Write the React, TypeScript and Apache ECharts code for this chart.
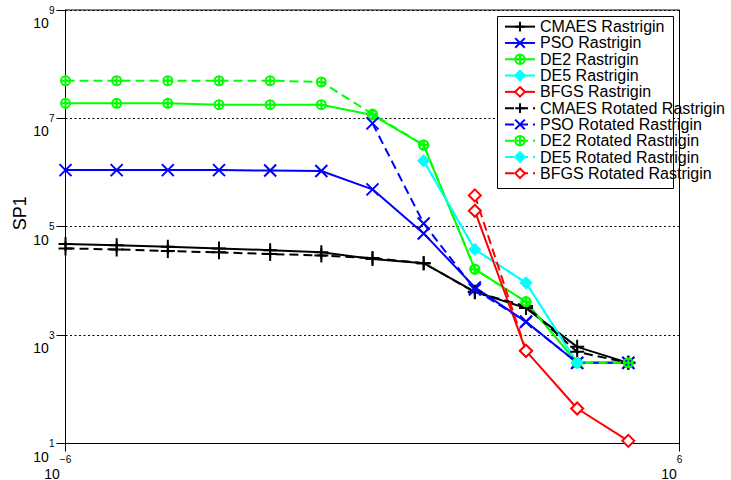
import React, { useEffect, useRef } from "react";
import * as echarts from "echarts";

const FONT = "'Liberation Sans', Arial, Helvetica, sans-serif";

// Population/evaluation budgets on the x axis (10^-6 … 10^5)
const xValues = [1e-6, 1e-5, 1e-4, 1e-3, 1e-2, 1e-1, 1e0, 1e1, 1e2, 1e3, 1e4, 1e5];

// SP1 for each optimiser; null where the run has no value
const cmaes = [47900, 45800, 42600, 39800, 37000, 34000, 25300, 21300, 6300, 3150, 608, 308];
const pso = [1.11e6, 1.11e6, 1.11e6, 1.11e6, 1.09e6, 1.07e6, 4.9e5, 75300, 7590, 1760, 308, 308];
const de2 = [1.9e7, 1.9e7, 1.9e7, 1.79e7, 1.79e7, 1.79e7, 1.15e7, 3.22e6, 16500, 4110, 308, 308];
const de5 = [null, null, null, null, null, null, null, 1.65e6, 38200, 9230, 308, null];
const bfgs = [null, null, null, null, null, null, null, null, 1.97e5, 513, 44.3, 11.2];

const cmaesRot = [39800, 38200, 35600, 33700, 31300, 29600, 26400, 21300, 6210, 3430, 491, 308];
const psoRot = [null, null, null, null, null, null, 8.09e6, 115000, 6970, 1760, 308, 308];
const de2Rot = [4.95e7, 4.95e7, 4.95e7, 4.95e7, 4.95e7, 4.69e7, 1.2e7, 3.22e6, 16500, 4110, 308, 308];
const de5Rot = [null, null, null, null, null, null, null, 1.65e6, 38200, 9230, 308, null];
const bfgsRot = [null, null, null, null, null, null, null, null, 3.79e5, 513, null, null];

const PLUS = "path://M0,-1L0,1M-1,0L1,0";
const CROSS = "path://M-1,-1L1,1M-1,1L1,-1";
const OPLUS = "path://M-1,0A1,1,0,1,1,1,0A1,1,0,1,1,-1,0ZM-1,0L1,0M0,-1L0,1";

type Row = (number | null)[];

const methods = [
  { name: "CMAES", color: "#000000", symbol: PLUS, size: 14, fill: "rgba(0,0,0,0)" },
  { name: "PSO", color: "#0000ff", symbol: CROSS, size: 12, fill: "rgba(0,0,0,0)" },
  { name: "DE2", color: "#00ff00", symbol: OPLUS, size: 9, fill: "rgba(0,0,0,0)" },
  { name: "DE5", color: "#00ffff", symbol: "diamond", size: 10, fill: "#00ffff" },
  { name: "BFGS", color: "#ff0000", symbol: "diamond", size: 12, fill: "#ffffff" },
];

const plainRows: Row[] = [cmaes, pso, de2, de5, bfgs];
const rotatedRows: Row[] = [cmaesRot, psoRot, de2Rot, de5Rot, bfgsRot];

function toPairs(row: Row) {
  const out: [number, number][] = [];
  row.forEach((v, i) => {
    if (v != null) out.push([xValues[i], v]);
  });
  return out;
}

function expText(v: number) {
  const e = Math.round(Math.log10(v));
  return e < 0 ? "\u2212" + Math.abs(e) : String(e);
}

// widths (px) of the mantissa "10" at 14px and an exponent at 10px
const TEN_W = 15.6;
const DIGIT_W = 5.6;
const expWidth = (s: string) => s.length * DIGIT_W + (s.startsWith("\u2212") ? 0.2 : 0);

function makeSeries(label: string, m: (typeof methods)[number], row: Row, dashed: boolean) {
  return {
    name: label,
    type: "line",
    data: toPairs(row),
    symbol: m.symbol,
    symbolSize: m.size,
    showAllSymbol: true,
    lineStyle: { color: m.color, width: 2, type: dashed ? [9, 5] : "solid" },
    itemStyle: { color: m.fill, borderColor: m.color, borderWidth: 2 },
    emphasis: { disabled: true },
  };
}

const txt = { fontFamily: FONT, color: "#000" };

export default function App() {
  const ref = useRef<HTMLDivElement>(null);

  useEffect(() => {
    if (!ref.current) return;
    const chart = echarts.init(ref.current, undefined, { renderer: "svg" });

    const series = [
      ...methods.map((m, i) => makeSeries(`${m.name} Rastrigin`, m, plainRows[i], false)),
      ...methods.map((m, i) => makeSeries(`${m.name} Rotated Rastrigin`, m, rotatedRows[i], true)),
    ];

    chart.setOption({
      animation: false,
      backgroundColor: "#ffffff",
      textStyle: { fontFamily: FONT },
      grid: {
        left: 65.5,
        right: 51.5,
        top: 10,
        bottom: 36.5,
        containLabel: false,
        outerBoundsMode: "none",
        show: true,
        borderColor: "#000",
        borderWidth: 1,
        backgroundColor: "#ffffff",
      },
      xAxis: {
        type: "log",
        logBase: 10,
        min: 1e-6,
        max: 1e6,
        interval: 12,
        axisLine: { lineStyle: { color: "#000", width: 1 } },
        axisTick: { show: true, inside: false, length: 8, lineStyle: { color: "#000" } },
        splitLine: { show: false },
        minorTick: { show: false },
        axisLabel: {
          margin: 10,
          color: "#000",
          align: "center",
          formatter: (v: number) => {
            const e = expText(v);
            return `{e|${e}}\n{b${e.length}|10}`;
          },
          rich: {
            e: { ...txt, fontSize: 10, lineHeight: 12, padding: [0, TEN_W, 0, TEN_W] },
            b1: { ...txt, fontSize: 14, lineHeight: 16, padding: [0, TEN_W + expWidth("6"), 0, 0] },
            b2: { ...txt, fontSize: 14, lineHeight: 16, padding: [0, TEN_W + expWidth("\u22126"), 0, 0] },
          },
        },
      },
      yAxis: {
        type: "log",
        logBase: 10,
        min: 10,
        max: 1e9,
        interval: 2,
        name: "SP1",
        nameLocation: "middle",
        nameGap: 37,
        nameMoveOverlap: false,
        nameTextStyle: { fontSize: 18, color: "#000", fontFamily: FONT, padding: [0, 0, 0, 27] },
        axisLine: { show: true, lineStyle: { color: "#000", width: 1 } },
        axisTick: { show: true, inside: false, length: 9, lineStyle: { color: "#000" } },
        minorTick: { show: false },
        splitLine: { show: true, lineStyle: { color: "#000", width: 1, type: [2, 2.5] } },
        axisLabel: {
          // centred block, both lines of equal width: exponent on the right, "10" below-left
          margin: 11 + (TEN_W + DIGIT_W) / 2,
          color: "#000",
          align: "center",
          verticalAlign: "middle",
          formatter: (v: number) => `{z| }\n{e|${expText(v)}}\n{b|10}`,
          rich: {
            z: { ...txt, fontSize: 10, lineHeight: 16 },
            e: { ...txt, fontSize: 10, lineHeight: 10, padding: [0, 0, 0, TEN_W] },
            b: { ...txt, fontSize: 14, lineHeight: 16, padding: [0, DIGIT_W, 0, 0] },
          },
        },
      },
      legend: {
        orient: "vertical",
        left: 504,
        top: 18.5,
        padding: 0,
        itemWidth: 30,
        itemHeight: 12,
        itemGap: 0,
        selectedMode: false,
        textStyle: { fontSize: 16, lineHeight: 16.3, color: "#000", fontFamily: FONT },
        data: series.map((s) => s.name),
      },
      graphic: [
        {
          type: "rect",
          z: 3,
          shape: { x: 497.5, y: 16.5, width: 176, height: 172 },
          style: { fill: "#ffffff", stroke: "#000000", lineWidth: 1 },
          silent: true,
        },
      ],
      series,
    });

    return () => chart.dispose();
  }, []);

  return (
    <div
      ref={ref}
      style={{ position: "fixed", left: 0, top: 0, width: 731, height: 480, background: "#fff" }}
    />
  );
}
